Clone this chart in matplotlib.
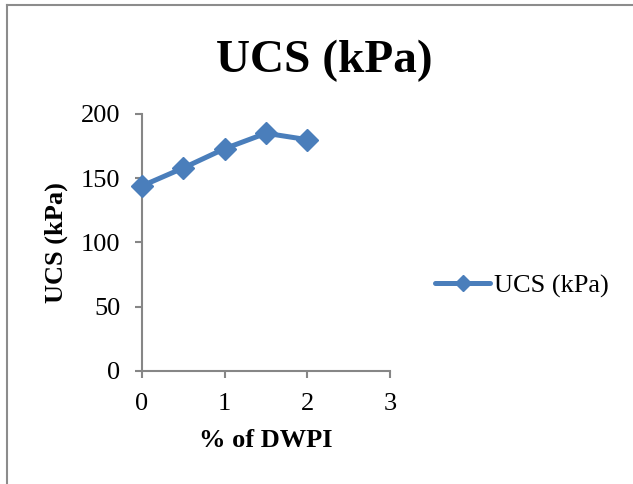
import numpy as np
import matplotlib.pyplot as plt
from matplotlib.lines import Line2D

# --- DATA ---
dwpi = [0, 0.5, 1, 1.5, 2]
ucs = [144, 158, 173, 185, 180]
x_ticks = [0, 1, 2, 3]
y_ticks = [0, 50, 100, 150, 200]

LINE_COLOR = '#4A7EBB'
AXIS_COLOR = '#868686'

plt.rcParams['font.family'] = ['Liberation Serif', 'DejaVu Serif']

fig = plt.figure(figsize=(6.33, 4.84), dpi=100)
ax = fig.add_axes([0.2243, 0.2335, 0.3918, 0.5310])

# chart border (cut off at right and bottom in the reference)
bx, by = 7 / 633, 1 - 5 / 484
fig.add_artist(Line2D([bx, 1.0], [by, by], transform=fig.transFigure,
                      color='#8C8C8C', linewidth=1.5))
fig.add_artist(Line2D([bx, bx], [0.0, by], transform=fig.transFigure,
                      color='#8C8C8C', linewidth=1.5))

ax.plot(dwpi, ucs, color=LINE_COLOR, linewidth=3.6, marker='D',
        markersize=11, solid_capstyle='round', solid_joinstyle='round',
        label='UCS (kPa)', clip_on=False, zorder=3)

ax.set_xlim(0, 3)
ax.set_ylim(0, 200)
ax.set_xticks(x_ticks)
ax.set_yticks(y_ticks)

for side in ['top', 'right']:
    ax.spines[side].set_visible(False)
for side in ['left', 'bottom']:
    ax.spines[side].set_color(AXIS_COLOR)
    ax.spines[side].set_linewidth(1.5)
ax.tick_params(axis='both', colors=AXIS_COLOR, labelcolor='black',
               labelsize=19, length=5, width=1.5, direction='out')
ax.tick_params(axis='y', pad=10.5)
ax.tick_params(axis='x', pad=11)

ax.set_xlabel('% of DWPI', fontsize=19, fontweight='bold', labelpad=10)
ax.set_ylabel('UCS (kPa)', fontsize=19, fontweight='bold', labelpad=9)
fig.text(0.513, 0.875, 'UCS (kPa)', fontsize=34, fontweight='bold',
         ha='center', va='center')

fig.legend(loc='center left', bbox_to_anchor=(435 / 633, 1 - 286 / 484),
           frameon=False, fontsize=19, handlelength=2.1, handletextpad=0.15,
           borderpad=0, borderaxespad=0, markerscale=0.75)

fig.savefig('out.png', dpi=100)
